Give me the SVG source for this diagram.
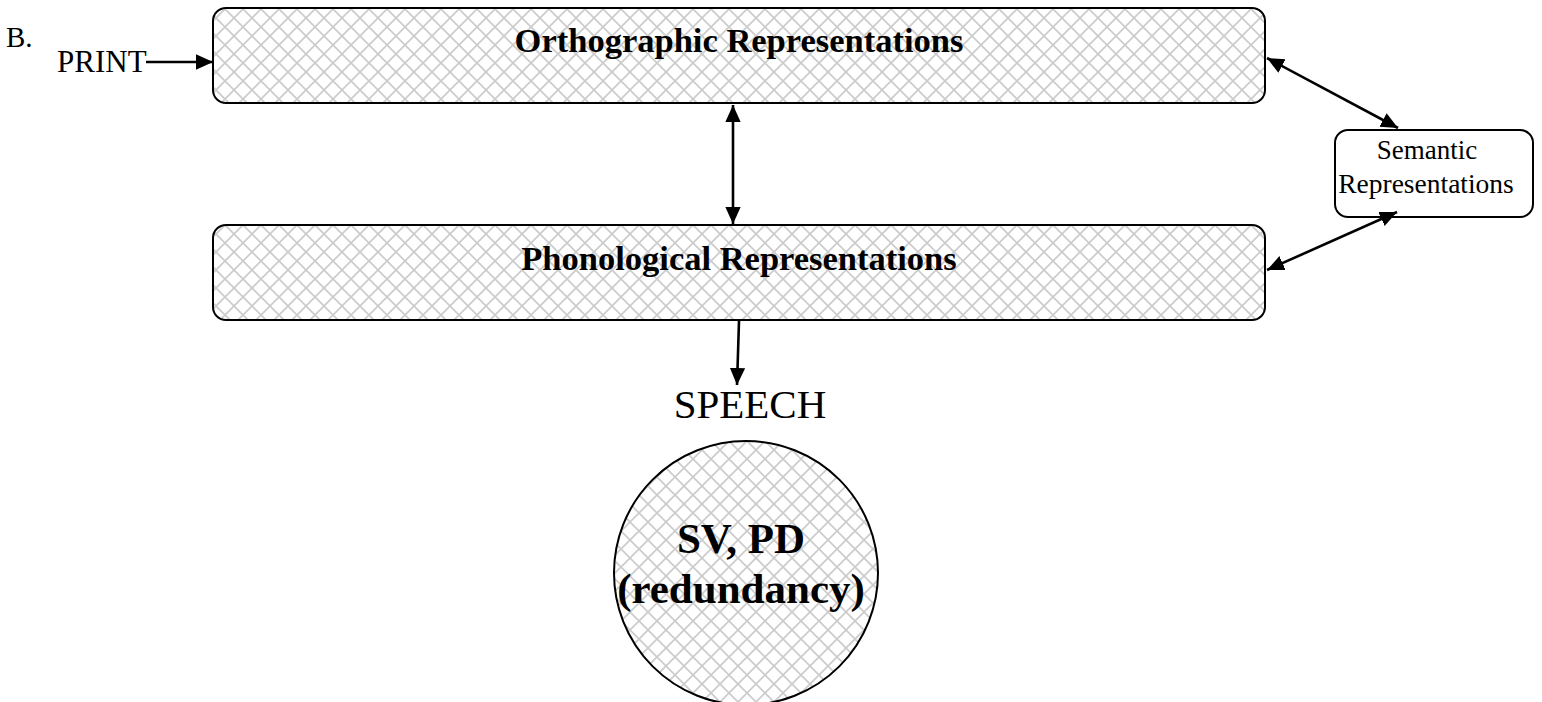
<svg xmlns="http://www.w3.org/2000/svg" width="1542" height="702" viewBox="0 0 1542 702">
  <style>
    .box { fill: url(#xhatch); stroke: #000; stroke-width: 2; }
    .plain { fill: #fff; stroke: #000; stroke-width: 2; }
    .lbl { font-family: "Liberation Serif", "Times New Roman", serif; fill: #000; }
    .bold { font-weight: bold; }
    .conn { stroke: #000; stroke-width: 2.6; fill: none; }
  </style>
  <defs>
    <pattern id="xhatch" patternUnits="userSpaceOnUse" width="18" height="18">
      <rect width="18" height="18" fill="#fff"/>
      <path d="M-1,-1 L19,19 M19,-1 L-1,19" stroke="#cccccc" stroke-width="1.7"/>
    </pattern>
    <marker id="head" viewBox="0 0 10 10" refX="10" refY="5" markerWidth="17" markerHeight="17" markerUnits="userSpaceOnUse" orient="auto-start-reverse">
      <path d="M0,0.5 L10,5 L0,9.5 Z" fill="#000"/>
    </marker>
  </defs>

  <rect width="1542" height="702" fill="#fff"/>

  <text class="lbl" x="6" y="47" font-size="29">B.</text>
  <text class="lbl" x="57" y="72" font-size="31">PRINT</text>

  <g id="orthographic">
    <rect class="box" x="213" y="8" width="1052" height="95" rx="13"/>
    <text class="lbl bold" x="739" y="52" font-size="34.5" text-anchor="middle">Orthographic Representations</text>
  </g>

  <g id="phonological">
    <rect class="box" x="213" y="225" width="1052" height="95" rx="13"/>
    <text class="lbl bold" x="739" y="270" font-size="34.5" text-anchor="middle">Phonological Representations</text>
  </g>

  <g id="semantic">
    <rect class="plain" x="1335" y="130" width="198" height="87" rx="13"/>
    <text class="lbl" x="1427" y="159" font-size="27" text-anchor="middle">Semantic</text>
    <text class="lbl" x="1426" y="193" font-size="27.5" text-anchor="middle">Representations</text>
  </g>

  <g id="speech">
    <text class="lbl" x="750" y="418" font-size="41" text-anchor="middle">SPEECH</text>
  </g>

  <g id="sv-pd">
    <circle class="box" cx="746" cy="573" r="132"/>
    <text class="lbl bold" x="741" y="553" font-size="43" text-anchor="middle">SV, PD</text>
    <text class="lbl bold" x="741" y="603" font-size="43" text-anchor="middle">(redundancy)</text>
  </g>

  <g id="connectors">
    <line class="conn" x1="146" y1="62" x2="213" y2="62" marker-end="url(#head)"/>
    <line class="conn" x1="733" y1="105" x2="733" y2="224" marker-start="url(#head)" marker-end="url(#head)"/>
    <line class="conn" x1="1267" y1="58" x2="1398" y2="128" marker-start="url(#head)" marker-end="url(#head)"/>
    <line class="conn" x1="1397" y1="212" x2="1267" y2="270" marker-start="url(#head)" marker-end="url(#head)"/>
    <line class="conn" x1="739" y1="321" x2="737" y2="385" marker-end="url(#head)"/>
  </g>
</svg>
